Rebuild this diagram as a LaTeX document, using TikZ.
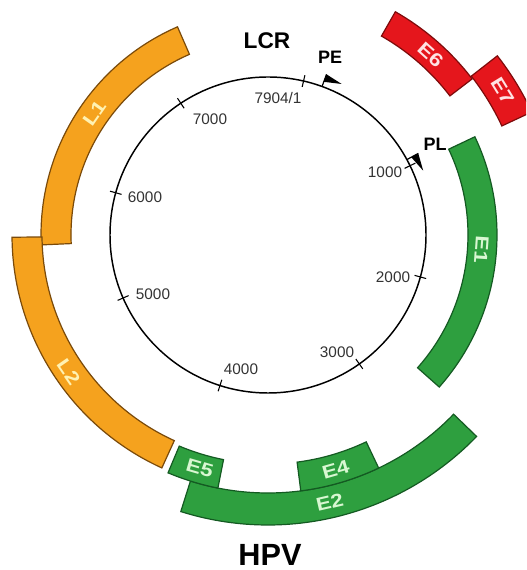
\documentclass[tikz,border=0pt]{standalone}
\usepackage{fontspec}
\usepackage{graphicx}
\setmainfont{Liberation Sans}

\definecolor{orangefill}{HTML}{F5A21E}
\definecolor{orangeline}{HTML}{7A4A0A}
\definecolor{greenfill}{HTML}{2E9F3F}
\definecolor{greenline}{HTML}{145A22}
\definecolor{redfill}{HTML}{E5161C}
\definecolor{redline}{HTML}{7E0B0B}
\definecolor{ltext}{HTML}{FFF2B3}
\definecolor{etext}{HTML}{D9F7D2}
\definecolor{rtext}{HTML}{FFE3E3}
\definecolor{ticktext}{HTML}{333333}

% annular sector: style, start/end angle (clockwise from north), inner/outer radius
\newcommand\genebox[5]{%
  \draw[#1] ({90-#2}:#4) arc[start angle={90-#2}, end angle={90-#3}, radius=#4]
    -- ({90-#3}:#5) arc[start angle={90-#3}, end angle={90-#2}, radius=#5] -- cycle;}
% label on a sector: name, colour, angle, radius, rotation, text
\newcommand\genelabel[6]{%
  \node[genetext, text=#2, rotate=#5] (#1) at ({90-#3}:#4) {\scalebox{1.2}[1]{#6}};}
% promoter flag at a clockwise angle
\newcommand\promoter[1]{%
  \draw[flagline] ({90-#1}:158) -- ({90-#1}:171);
  \fill ({90-#1}:171) -- ({90-#1-6}:168) -- ({90-#1}:163) -- cycle;}

\tikzset{
  orangegene/.style={draw=orangeline, fill=orangefill, line width=0.9pt},
  greengene/.style={draw=greenline, fill=greenfill, line width=0.9pt},
  redgene/.style={draw=redline, fill=redfill, line width=0.9pt},
  genetext/.style={font=\bfseries\fontsize{14}{14}\selectfont, inner sep=0pt},
  ticklabel/.style={font=\fontsize{11.5}{12}\selectfont, text=ticktext, inner sep=0pt},
  titletext/.style={font=\bfseries, inner sep=0pt},
  flagline/.style={line width=0.9pt},
}

\begin{document}
\begin{tikzpicture}[x=0.75pt, y=0.75pt]
\useasboundingbox (0,0) rectangle (526,570);
\clip (0,0) rectangle (526,570);
\fill[white] (0,0) rectangle (526,570);

\begin{scope}[shift={(268,335)}]
  % genome circle with position ticks (angles clockwise from the top)
  \draw[line width=1.1pt] (0,0) circle[radius=158];
  \foreach \a in {13,64,105.4,144.7,197.7,246.5,285.5,326.5}
    \draw[line width=0.8pt] ({90-\a}:152) -- ({90-\a}:164);

  % promoters
  \promoter{20}
  \promoter{61.5}

  % late genes
  \genebox{orangegene}{267.5}{336.5}{197}{227}
  \genebox{orangegene}{204.5}{269.5}{226}{256}
  % early genes
  \genebox{greengene}{64.6}{131.6}{200}{229}
  \genebox{greengene}{134}{197.5}{258}{290}
  \genebox{greengene}{154.6}{172.7}{229}{258}
  \genebox{greengene}{191.2}{202.8}{229}{258}
  \genebox{redgene}{29.7}{52.6}{229}{257}
  \genebox{redgene}{52}{65}{258}{291}

  \genelabel{lL1}{ltext}{305}{212}{55}{L1}
  \genelabel{lL2}{ltext}{235.5}{242}{-55.5}{L2}
  \genelabel{lE1}{etext}{94}{214}{-94}{E1}
  \genelabel{lE2}{etext}{167}{274}{13}{E2}
  \genelabel{lE4}{etext}{163.9}{244}{16}{E4}
  \genelabel{lE5}{etext}{196.3}{243}{-16.3}{E5}
  \genelabel{lE6}{rtext}{42}{243}{-42}{E6}
  \genelabel{lE7}{rtext}{58.5}{275}{-58.5}{E7}
\end{scope}

% position labels
\node[ticklabel] (t0) at (278,472) {7904/1};
\node[ticklabel] (t7) at (210,451) {7000};
\node[ticklabel] (t6) at (145,373) {6000};
\node[ticklabel] (t5) at (153,276) {5000};
\node[ticklabel] (t4) at (241,201) {4000};
\node[ticklabel] (t3) at (337,218) {3000};
\node[ticklabel] (t2) at (393,293) {2000};
\node[ticklabel] (t1) at (385,398) {1000};

% region and promoter names
\node[titletext, font=\bfseries\fontsize{17}{17}\selectfont] (lcr) at (267,529) {LCR};
\node[titletext, font=\bfseries\fontsize{23}{23}\selectfont] (hpv) at (270,15) {HPV};
\node[titletext, font=\bfseries\fontsize{13.5}{13.5}\selectfont] (pe) at (330,513) {PE};
\node[titletext, font=\bfseries\fontsize{13.5}{13.5}\selectfont] (pl) at (435,426) {PL};
\end{tikzpicture}
\end{document}
